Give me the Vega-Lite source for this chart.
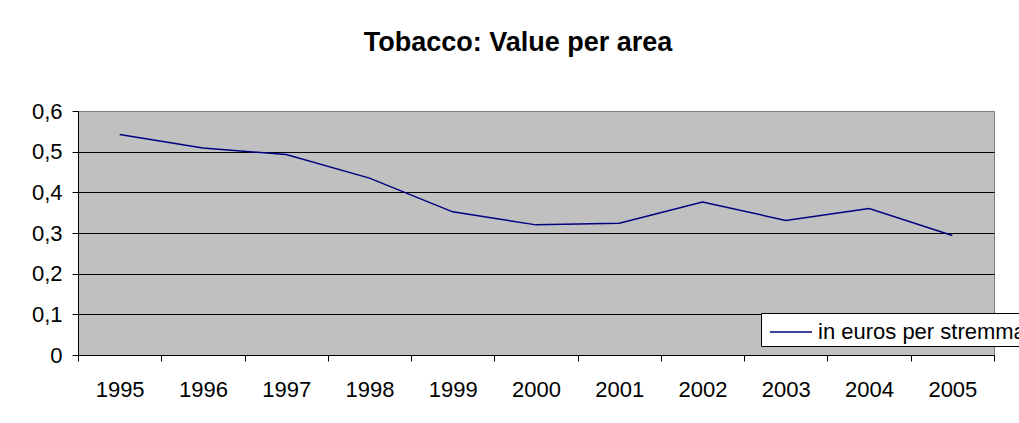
{
  "$schema": "https://vega.github.io/schema/vega-lite/v6.json",
  "autosize": {"type": "none"},
  "padding": {"left": 78, "top": 111, "right": 25, "bottom": 68},
  "width": 916,
  "height": 244,
  "background": "white",
  "title": {"text": "Tobacco: Value per area", "fontSize": 27, "fontWeight": "bold", "font": "Liberation Sans", "color": "black", "anchor": "middle", "frame": "group", "dx": -18, "offset": 22, "baseline": "alphabetic"},
  "data": {"values": [
    {"year": "1995", "value": 0.542, "series": "in euros per stremma"},
    {"year": "1996", "value": 0.509, "series": "in euros per stremma"},
    {"year": "1997", "value": 0.493, "series": "in euros per stremma"},
    {"year": "1998", "value": 0.435, "series": "in euros per stremma"},
    {"year": "1999", "value": 0.352, "series": "in euros per stremma"},
    {"year": "2000", "value": 0.320, "series": "in euros per stremma"},
    {"year": "2001", "value": 0.324, "series": "in euros per stremma"},
    {"year": "2002", "value": 0.376, "series": "in euros per stremma"},
    {"year": "2003", "value": 0.331, "series": "in euros per stremma"},
    {"year": "2004", "value": 0.360, "series": "in euros per stremma"},
    {"year": "2005", "value": 0.294, "series": "in euros per stremma"}
  ]},
  "mark": {"type": "line", "strokeWidth": 1.5},
  "encoding": {
    "x": {"field": "year", "type": "ordinal", "scale": {"type": "band", "paddingInner": 0, "paddingOuter": 0}, "bandPosition": 0.5,
      "axis": {"title": null, "labelAngle": 0, "tickBand": "extent", "tickSize": 6, "labelPadding": 18, "labelFontSize": 22, "grid": false, "domainColor": "black", "tickColor": "black", "labelColor": "black"}},
    "y": {"field": "value", "type": "quantitative", "scale": {"domain": [0, 0.6], "nice": false},
      "axis": {"title": null, "values": [0, 0.1, 0.2, 0.3, 0.4, 0.5, 0.6], "labelExpr": "replace(format(datum.value,'.1~f'),'.',',')", "tickSize": 6, "labelPadding": 10, "labelFontSize": 22, "grid": true, "gridColor": {"condition": {"test": "datum.value >= 0.59", "value": "#808080"}, "value": "black"}, "gridOpacity": 1, "domainColor": "black", "tickColor": "black", "labelColor": "black"}},
    "color": {"field": "series", "type": "nominal", "scale": {"range": ["#000080"]},
      "legend": {"title": null, "orient": "none", "legendX": 683, "legendY": 202, "direction": "vertical", "symbolType": "M-0.67,0H2.13", "symbolSize": 900, "symbolStrokeWidth": 1.5, "labelFontSize": 22, "labelColor": "black", "labelOffset": 22, "padding": 3, "strokeColor": "black", "fillColor": "white", "labelLimit": 0}}
  },
  "config": {"font": "Liberation Sans", "view": {"fill": "#C0C0C0", "stroke": "#808080", "strokeWidth": 1}}
}
